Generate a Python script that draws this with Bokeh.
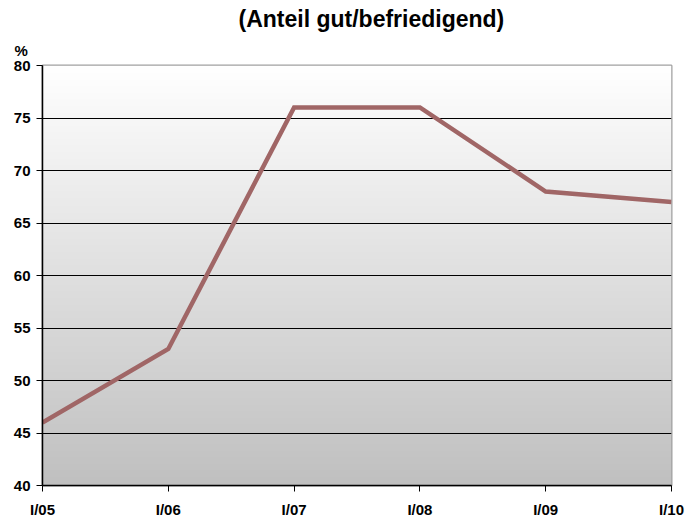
import numpy as np
from bokeh.plotting import figure
from bokeh.models import Title, FixedTicker, Range1d
from bokeh.embed import file_html
from bokeh.resources import INLINE

categories = ["I/05", "I/06", "I/07", "I/08", "I/09", "I/10"]
values = [46, 53, 76, 76, 68, 67]
y_ticks = [40, 45, 50, 55, 60, 65, 70, 75, 80]
title_text = "(Anteil gut/befriedigend)"
unit_text = "%"

FONT = "Liberation Sans"
xs = list(range(len(categories)))

p = figure(width=687, height=520, output_backend="svg", toolbar_location=None,
           x_range=Range1d(0, len(categories) - 1), y_range=Range1d(40, 80),
           min_border_left=42, min_border_right=16, min_border_top=65, min_border_bottom=33)
p.background_fill_color = "white"
p.border_fill_color = "white"
p.outline_line_color = "#a0a0a0"
p.outline_line_width = 2

# gradient background of plot area
n = 256
t = np.linspace(0, 1, n)  # bottom -> top
g = (192 + (255 - 192) * t).astype(np.uint32)
img = np.empty((n, 1), dtype=np.uint32)
view = img.view(dtype=np.uint8).reshape((n, 1, 4))
view[:, 0, 0] = g
view[:, 0, 1] = g
view[:, 0, 2] = g
view[:, 0, 3] = 255
p.image_rgba(image=[img], x=0, y=40, dw=len(categories) - 1, dh=40, level="image")

p.xgrid.grid_line_color = None
p.ygrid.grid_line_color = "black"
p.ygrid.grid_line_width = 1
p.ygrid.level = "underlay"

p.line(xs, values, line_color="#a06666", line_width=4.5, line_join="miter")

p.xaxis.ticker = FixedTicker(ticks=xs)
p.xaxis.major_label_overrides = {i: c for i, c in enumerate(categories)}
p.yaxis.ticker = FixedTicker(ticks=y_ticks)
for ax in (p.xaxis[0], p.yaxis[0]):
    ax.major_label_text_font = FONT
    ax.major_label_text_font_style = "bold"
    ax.major_label_text_font_size = "15px"
    ax.major_label_text_color = "black"
    ax.axis_line_color = "black"
    ax.axis_line_width = 1.5
    ax.major_tick_line_color = "black"
    ax.major_tick_in = 0
    ax.major_tick_out = 6
    ax.minor_tick_line_color = None
p.xaxis.major_label_standoff = 9
p.yaxis.major_label_standoff = 6

# main title (outermost row, at the very top)
p.title.text = title_text
p.title.text_font = FONT
p.title.text_font_style = "bold"
p.title.text_font_size = "23px"
p.title.text_color = "black"
p.title.align = "left"
p.title.offset = 196
p.title.standoff = 1

# unit label ("%") in the row just above the plot area, left of it
unit_title = Title(text=unit_text, align="left", offset=-28, standoff=14,
                   text_font=FONT, text_font_style="bold", text_font_size="15px",
                   text_color="black")
p.add_layout(unit_title, "above")

open("out.html", "w").write(file_html(p, INLINE))
